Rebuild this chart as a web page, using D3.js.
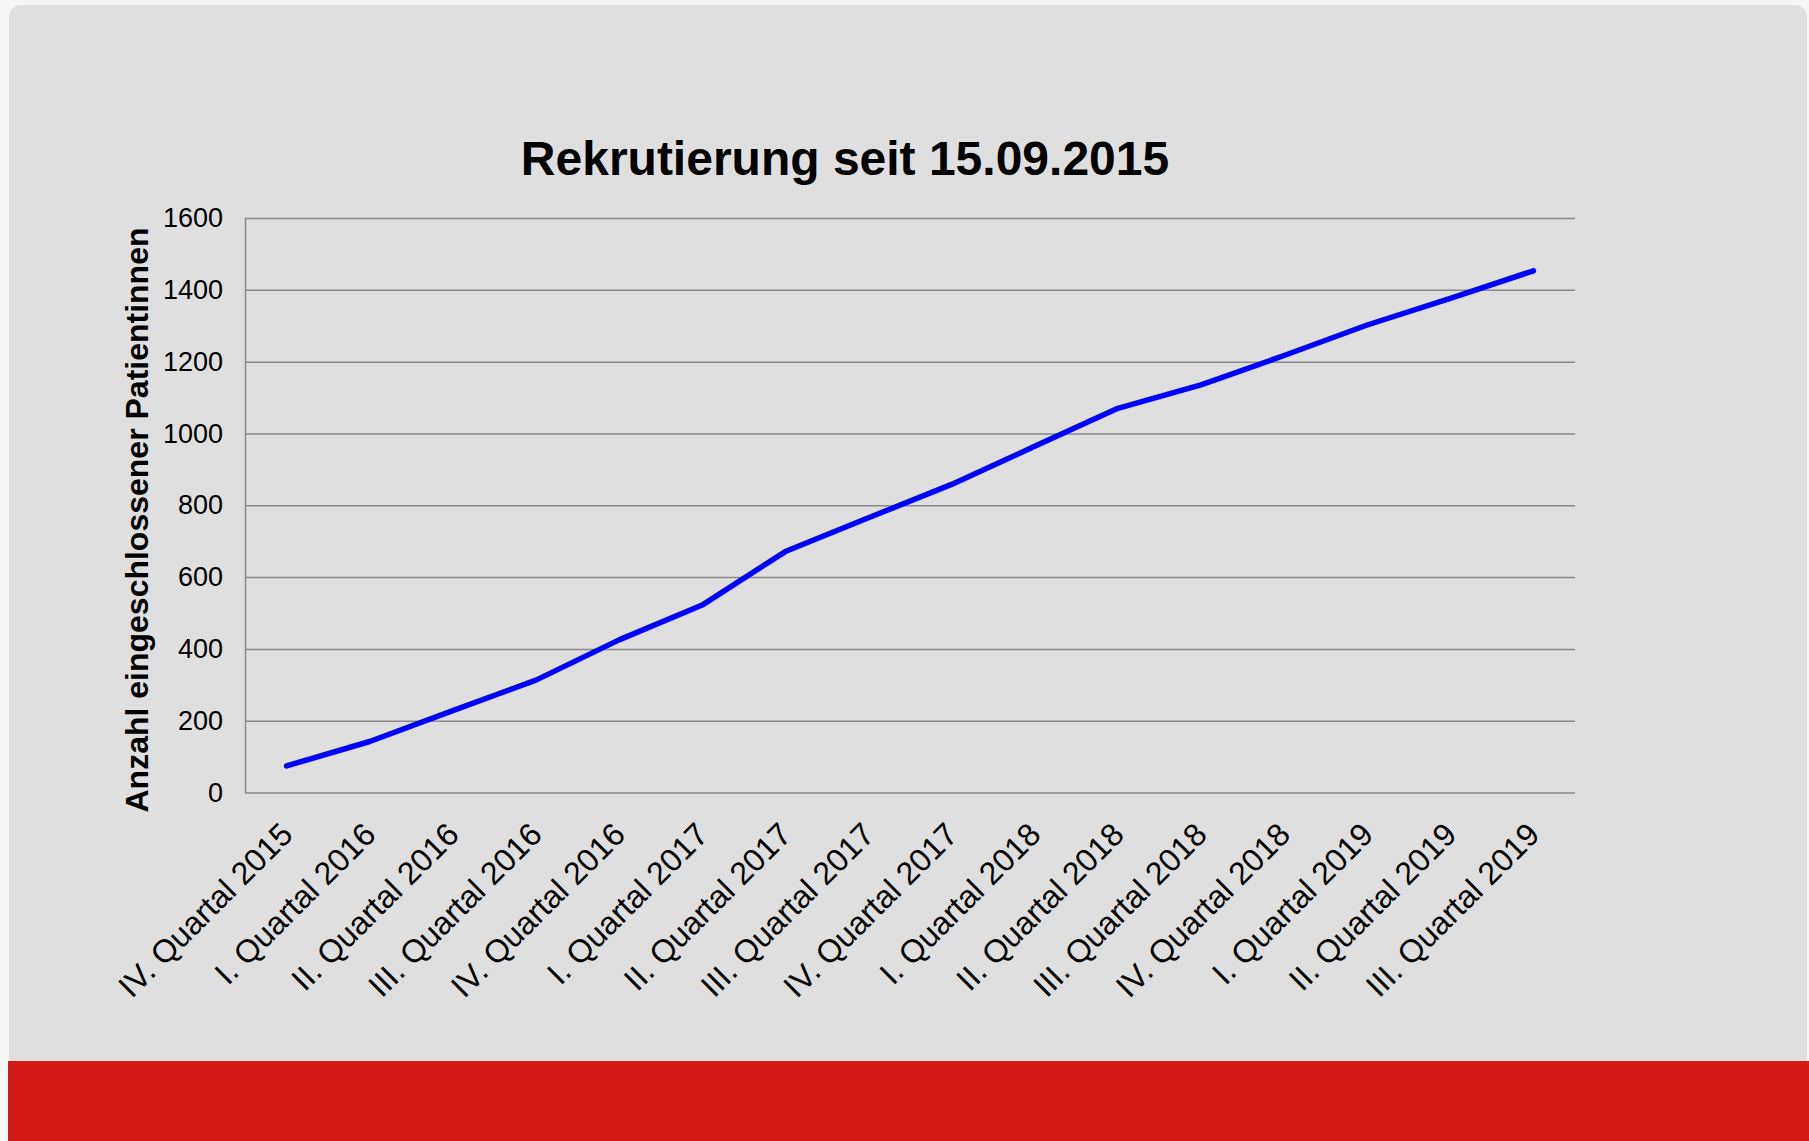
<!DOCTYPE html>
<html>
<head>
<meta charset="utf-8">
<script src="https://cdn.jsdelivr.net/npm/d3@7"></script>
<style>
  body { margin: 0; background: #f6f6f6; }
  svg { display: block; font-family: "Liberation Sans", Arial, sans-serif; }
</style>
</head>
<body>
<div id="content"></div>
<script>
// quarters on the x axis
var quarters = [
  "IV. Quartal 2015", "I. Quartal 2016", "II. Quartal 2016", "III. Quartal 2016",
  "IV. Quartal 2016", "I. Quartal 2017", "II. Quartal 2017", "III. Quartal 2017",
  "IV. Quartal 2017", "I. Quartal 2018", "II. Quartal 2018", "III. Quartal 2018",
  "IV. Quartal 2018", "I. Quartal 2019", "II. Quartal 2019", "III. Quartal 2019"
];

// cumulative number of patients
var patients = [74, 142, 228, 313, 425, 522, 671, 765, 858, 964, 1070, 1135, 1217, 1302, 1376, 1453];

var yTicks = [0, 200, 400, 600, 800, 1000, 1200, 1400, 1600];

var chartTitle = "Rekrutierung seit 15.09.2015";
var yTitle = "Anzahl eingeschlossener Patientinnen";

var width = 1809, height = 1141;
var plot = { left: 245, right: 1575, top: 218, bottom: 792.5 };

var svg = d3.select('#content').append('svg')
  .attr('width', width)
  .attr('height', height);

// grey panel + red band at the bottom
svg.append('rect')
  .attr('x', 9).attr('y', 5)
  .attr('width', 1798).attr('height', 1160)
  .attr('rx', 12)
  .attr('fill', '#dfdfdf');

svg.append('rect')
  .attr('x', 8).attr('y', 1061)
  .attr('width', width - 8).attr('height', height - 1061)
  .attr('fill', '#d51a17');

var x = d3.scaleBand()
  .domain(quarters)
  .range([plot.left, plot.right]);

var y = d3.scaleLinear()
  .domain([0, 1600])
  .range([plot.bottom, plot.top]);

// y axis with gridlines
var yAxis = svg.append('g')
  .attr('transform', 'translate(' + plot.left + ',0)')
  .call(d3.axisLeft(y)
    .tickValues(yTicks)
    .tickSizeInner(-(plot.right - plot.left))
    .tickSizeOuter(0)
    .tickPadding(22)
    .tickFormat(d3.format('d')));

yAxis.select('.domain').attr('stroke', '#888').attr('stroke-width', 1.5);
yAxis.selectAll('.tick line').attr('stroke', '#888').attr('stroke-width', 1.5);
yAxis.selectAll('.tick text')
  .attr('fill', '#000')
  .style('font-size', '27px')
  .style('font-family', '"Liberation Sans", Arial, sans-serif');

// x axis, rotated labels
var xAxis = svg.append('g')
  .attr('transform', 'translate(0,' + plot.bottom + ')')
  .call(d3.axisBottom(x).tickSize(0));

xAxis.select('.domain').remove();
xAxis.selectAll('.tick text')
  .attr('x', 0).attr('y', 0).attr('dy', 0)
  .attr('transform', 'translate(8,44) rotate(-45)')
  .attr('text-anchor', 'end')
  .attr('fill', '#000')
  .style('font-size', '32px')
  .style('font-family', '"Liberation Sans", Arial, sans-serif');

// the line
var line = d3.line()
  .x(function(d, i) { return x(quarters[i]) + x.bandwidth() / 2; })
  .y(function(d) { return y(d); });

svg.append('path')
  .datum(patients)
  .attr('d', line)
  .attr('fill', 'none')
  .attr('stroke', '#0000ff')
  .attr('stroke-width', 5.5)
  .attr('stroke-linecap', 'round')
  .attr('stroke-linejoin', 'round');

// titles
svg.append('text')
  .attr('x', 845).attr('y', 175)
  .attr('text-anchor', 'middle')
  .style('font-size', '48px')
  .style('font-weight', 'bold')
  .text(chartTitle);

svg.append('text')
  .attr('transform', 'translate(148,520) rotate(-90)')
  .attr('text-anchor', 'middle')
  .style('font-size', '32px')
  .style('font-weight', 'bold')
  .text(yTitle);
</script>
</body>
</html>
